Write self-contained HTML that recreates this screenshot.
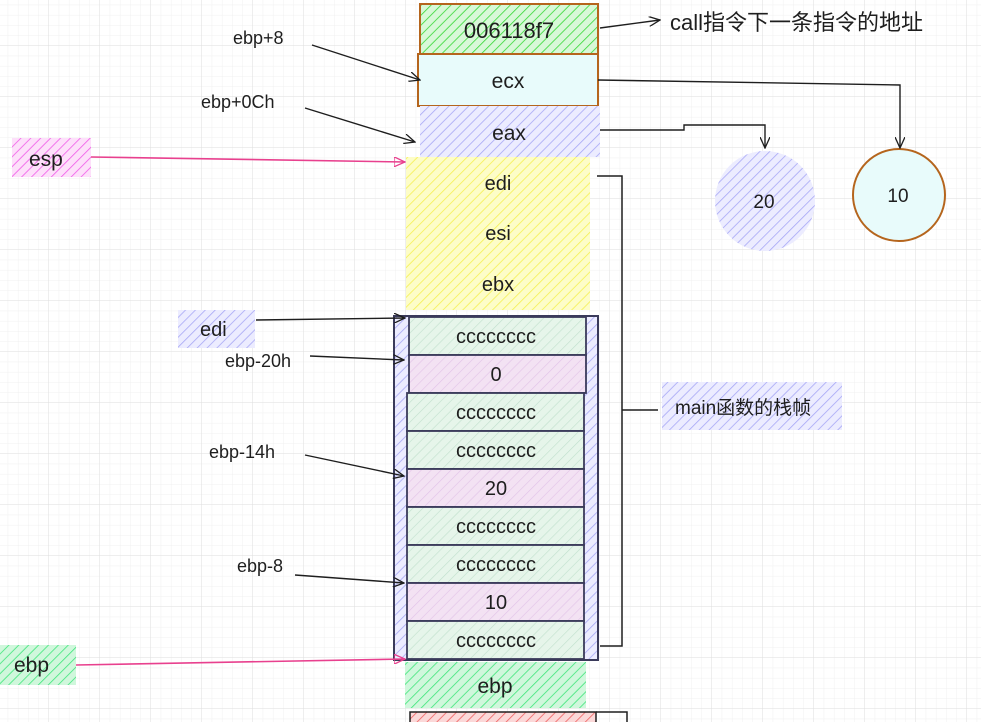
<!DOCTYPE html>
<html><head><meta charset="utf-8"><style>
body{margin:0;background:#fff}
svg text{font-family:"Liberation Sans","Noto Sans CJK SC",sans-serif;fill:#1e1e1e}
</style></head><body>
<svg width="981" height="722" viewBox="0 0 981 722" xmlns="http://www.w3.org/2000/svg">
<defs>
<pattern id="minor" x="-2" y="-5" width="10.2" height="10.2" patternUnits="userSpaceOnUse"><path d="M10.2 0V10.2H0" fill="none" stroke="#f0f0f0" stroke-width="1"/></pattern>
<pattern id="major" x="-2" y="-5" width="51" height="51" patternUnits="userSpaceOnUse"><path d="M51 0V51H0" fill="none" stroke="#dedede" stroke-width="1"/></pattern>
<pattern id="hG" width="7" height="7" patternUnits="userSpaceOnUse" patternTransform="rotate(45)"><rect width="7" height="7" fill="#d8f8d8"/><line x1="0" y1="0" x2="0" y2="7" stroke="#35d835" stroke-width="1.6"/></pattern>
<pattern id="hB" width="7" height="7" patternUnits="userSpaceOnUse" patternTransform="rotate(45)"><rect width="7" height="7" fill="#ececff"/><line x1="0" y1="0" x2="0" y2="7" stroke="#a7a7f5" stroke-width="1.6"/></pattern>
<pattern id="hY" width="7" height="7" patternUnits="userSpaceOnUse" patternTransform="rotate(45)"><rect width="7" height="7" fill="#fdfdc8"/><line x1="0" y1="0" x2="0" y2="7" stroke="#f5f052" stroke-width="1.6"/></pattern>
<pattern id="hP" width="7" height="7" patternUnits="userSpaceOnUse" patternTransform="rotate(45)"><rect width="7" height="7" fill="#fde0fa"/><line x1="0" y1="0" x2="0" y2="7" stroke="#f05ae8" stroke-width="1.6"/></pattern>
<pattern id="hE" width="7" height="7" patternUnits="userSpaceOnUse" patternTransform="rotate(45)"><rect width="7" height="7" fill="#d0f7dc"/><line x1="0" y1="0" x2="0" y2="7" stroke="#3ee67a" stroke-width="1.6"/></pattern>
<pattern id="rG" width="7" height="7" patternUnits="userSpaceOnUse" patternTransform="rotate(45)"><rect width="7" height="7" fill="#e6f5ea"/><line x1="0" y1="0" x2="0" y2="7" stroke="#c0e0cc" stroke-width="1.2"/></pattern>
<pattern id="rP" width="7" height="7" patternUnits="userSpaceOnUse" patternTransform="rotate(45)"><rect width="7" height="7" fill="#f3e2f3"/><line x1="0" y1="0" x2="0" y2="7" stroke="#e2c2e8" stroke-width="1.2"/></pattern>
<pattern id="hR" width="7" height="7" patternUnits="userSpaceOnUse" patternTransform="rotate(45)"><rect width="7" height="7" fill="#fbd8d8"/><line x1="0" y1="0" x2="0" y2="7" stroke="#f06060" stroke-width="1.6"/></pattern>
<marker id="ar" markerWidth="12" markerHeight="10" refX="11" refY="5" orient="auto" markerUnits="userSpaceOnUse"><path d="M0 0L11 5L0 10" fill="none" stroke="#1e1e1e" stroke-width="1.3"/></marker>
<marker id="arp" markerWidth="12" markerHeight="10" refX="11" refY="5" orient="auto" markerUnits="userSpaceOnUse"><path d="M0 0L11 5L0 10Z" fill="none" stroke="#e8408e" stroke-width="1.3"/></marker>
</defs>
<rect width="981" height="722" fill="url(#minor)"/>
<rect width="981" height="722" fill="url(#major)"/>

<!-- top stack -->
<rect x="420" y="4" width="178" height="50" fill="url(#hG)" stroke="#b5651d" stroke-width="2"/>
<text x="509" y="38" font-size="22" text-anchor="middle">006118f7</text>
<rect x="418" y="54" width="180" height="52" fill="#e8fbfb" stroke="#b5651d" stroke-width="2"/>
<text x="508" y="88" font-size="21" text-anchor="middle">ecx</text>
<rect x="420" y="106" width="180" height="51" fill="url(#hB)"/>
<text x="509" y="140" font-size="21" text-anchor="middle">eax</text>
<rect x="406" y="157" width="184" height="153" fill="url(#hY)"/>
<text x="498" y="190" font-size="20" text-anchor="middle">edi</text>
<text x="498" y="240" font-size="20" text-anchor="middle">esi</text>
<text x="498" y="291" font-size="20" text-anchor="middle">ebx</text>

<!-- outer frame -->
<rect x="394" y="316" width="204" height="344" fill="url(#hB)" stroke="#3a3a5a" stroke-width="2"/>
<g stroke="#3a3a5a" stroke-width="1.8" font-size="20">
<rect x="409" y="317" width="177" height="38" fill="url(#rG)"/>
<rect x="409" y="355" width="177" height="38" fill="url(#rP)"/>
<rect x="407" y="393" width="177" height="38" fill="url(#rG)"/>
<rect x="407" y="431" width="177" height="38" fill="url(#rG)"/>
<rect x="407" y="469" width="177" height="38" fill="url(#rP)"/>
<rect x="407" y="507" width="177" height="38" fill="url(#rG)"/>
<rect x="407" y="545" width="177" height="38" fill="url(#rG)"/>
<rect x="407" y="583" width="177" height="38" fill="url(#rP)"/>
<rect x="407" y="621" width="177" height="38" fill="url(#rG)"/>
</g>
<g font-size="20" text-anchor="middle">
<text x="496" y="343">cccccccc</text>
<text x="496" y="381">0</text>
<text x="496" y="419">cccccccc</text>
<text x="496" y="457">cccccccc</text>
<text x="496" y="495">20</text>
<text x="496" y="533">cccccccc</text>
<text x="496" y="571">cccccccc</text>
<text x="496" y="609">10</text>
<text x="496" y="647">cccccccc</text>
</g>
<rect x="405" y="662" width="181" height="46" fill="url(#hE)"/>
<text x="495" y="693" font-size="21" text-anchor="middle">ebp</text>
<rect x="410" y="712" width="186" height="14" fill="url(#hR)" stroke="#1e1e1e" stroke-width="1.5"/>
<path d="M596 712H627V722" fill="none" stroke="#1e1e1e" stroke-width="1.5"/>

<!-- bracket -->
<path d="M597 176H622V646H600M622 410H658" fill="none" stroke="#1e1e1e" stroke-width="1.5"/>
<rect x="662" y="382" width="180" height="48" fill="url(#hB)"/>
<text x="675" y="414" font-size="19">main函数的栈帧</text>

<!-- circles -->
<circle cx="765" cy="201" r="50" fill="url(#hB)"/>
<text x="764" y="208" font-size="19" text-anchor="middle">20</text>
<circle cx="899" cy="195" r="46" fill="#e8fbfb" stroke="#b5651d" stroke-width="2"/>
<text x="898" y="202" font-size="19" text-anchor="middle">10</text>

<!-- right arrows -->
<g fill="none" stroke="#1e1e1e" stroke-width="1.4">
<path d="M600 28L660 20" marker-end="url(#ar)"/>
<path d="M598 80L900 85V148" marker-end="url(#ar)"/>
<path d="M600 130H684V125H765V148" marker-end="url(#ar)"/>
<path d="M312 45L420 80" marker-end="url(#ar)"/>
<path d="M305 108L415 142" marker-end="url(#ar)"/>
<path d="M256 320L405 318" marker-end="url(#ar)"/>
<path d="M310 356L404 360" marker-end="url(#ar)"/>
<path d="M305 455L404 476" marker-end="url(#ar)"/>
<path d="M295 575L404 583" marker-end="url(#ar)"/>
</g>
<text x="670" y="30" font-size="22">call指令下一条指令的地址</text>

<!-- left labels -->
<text x="233" y="44" font-size="18">ebp+8</text>
<text x="201" y="108" font-size="18">ebp+0Ch</text>
<rect x="12" y="138" width="79" height="39" fill="url(#hP)"/>
<text x="29" y="166" font-size="21">esp</text>
<path d="M91 157L405 162" stroke="#e8408e" stroke-width="1.6" fill="none" marker-end="url(#arp)"/>
<rect x="178" y="310" width="77" height="38" fill="url(#hB)"/>
<text x="200" y="336" font-size="20">edi</text>
<text x="225" y="367" font-size="18">ebp-20h</text>
<text x="209" y="458" font-size="18">ebp-14h</text>
<text x="237" y="572" font-size="18">ebp-8</text>
<rect x="0" y="645" width="76" height="40" fill="url(#hE)"/>
<text x="14" y="672" font-size="21">ebp</text>
<path d="M76 665L405 659" stroke="#e8408e" stroke-width="1.6" fill="none" marker-end="url(#arp)"/>
</svg>
</body></html>
